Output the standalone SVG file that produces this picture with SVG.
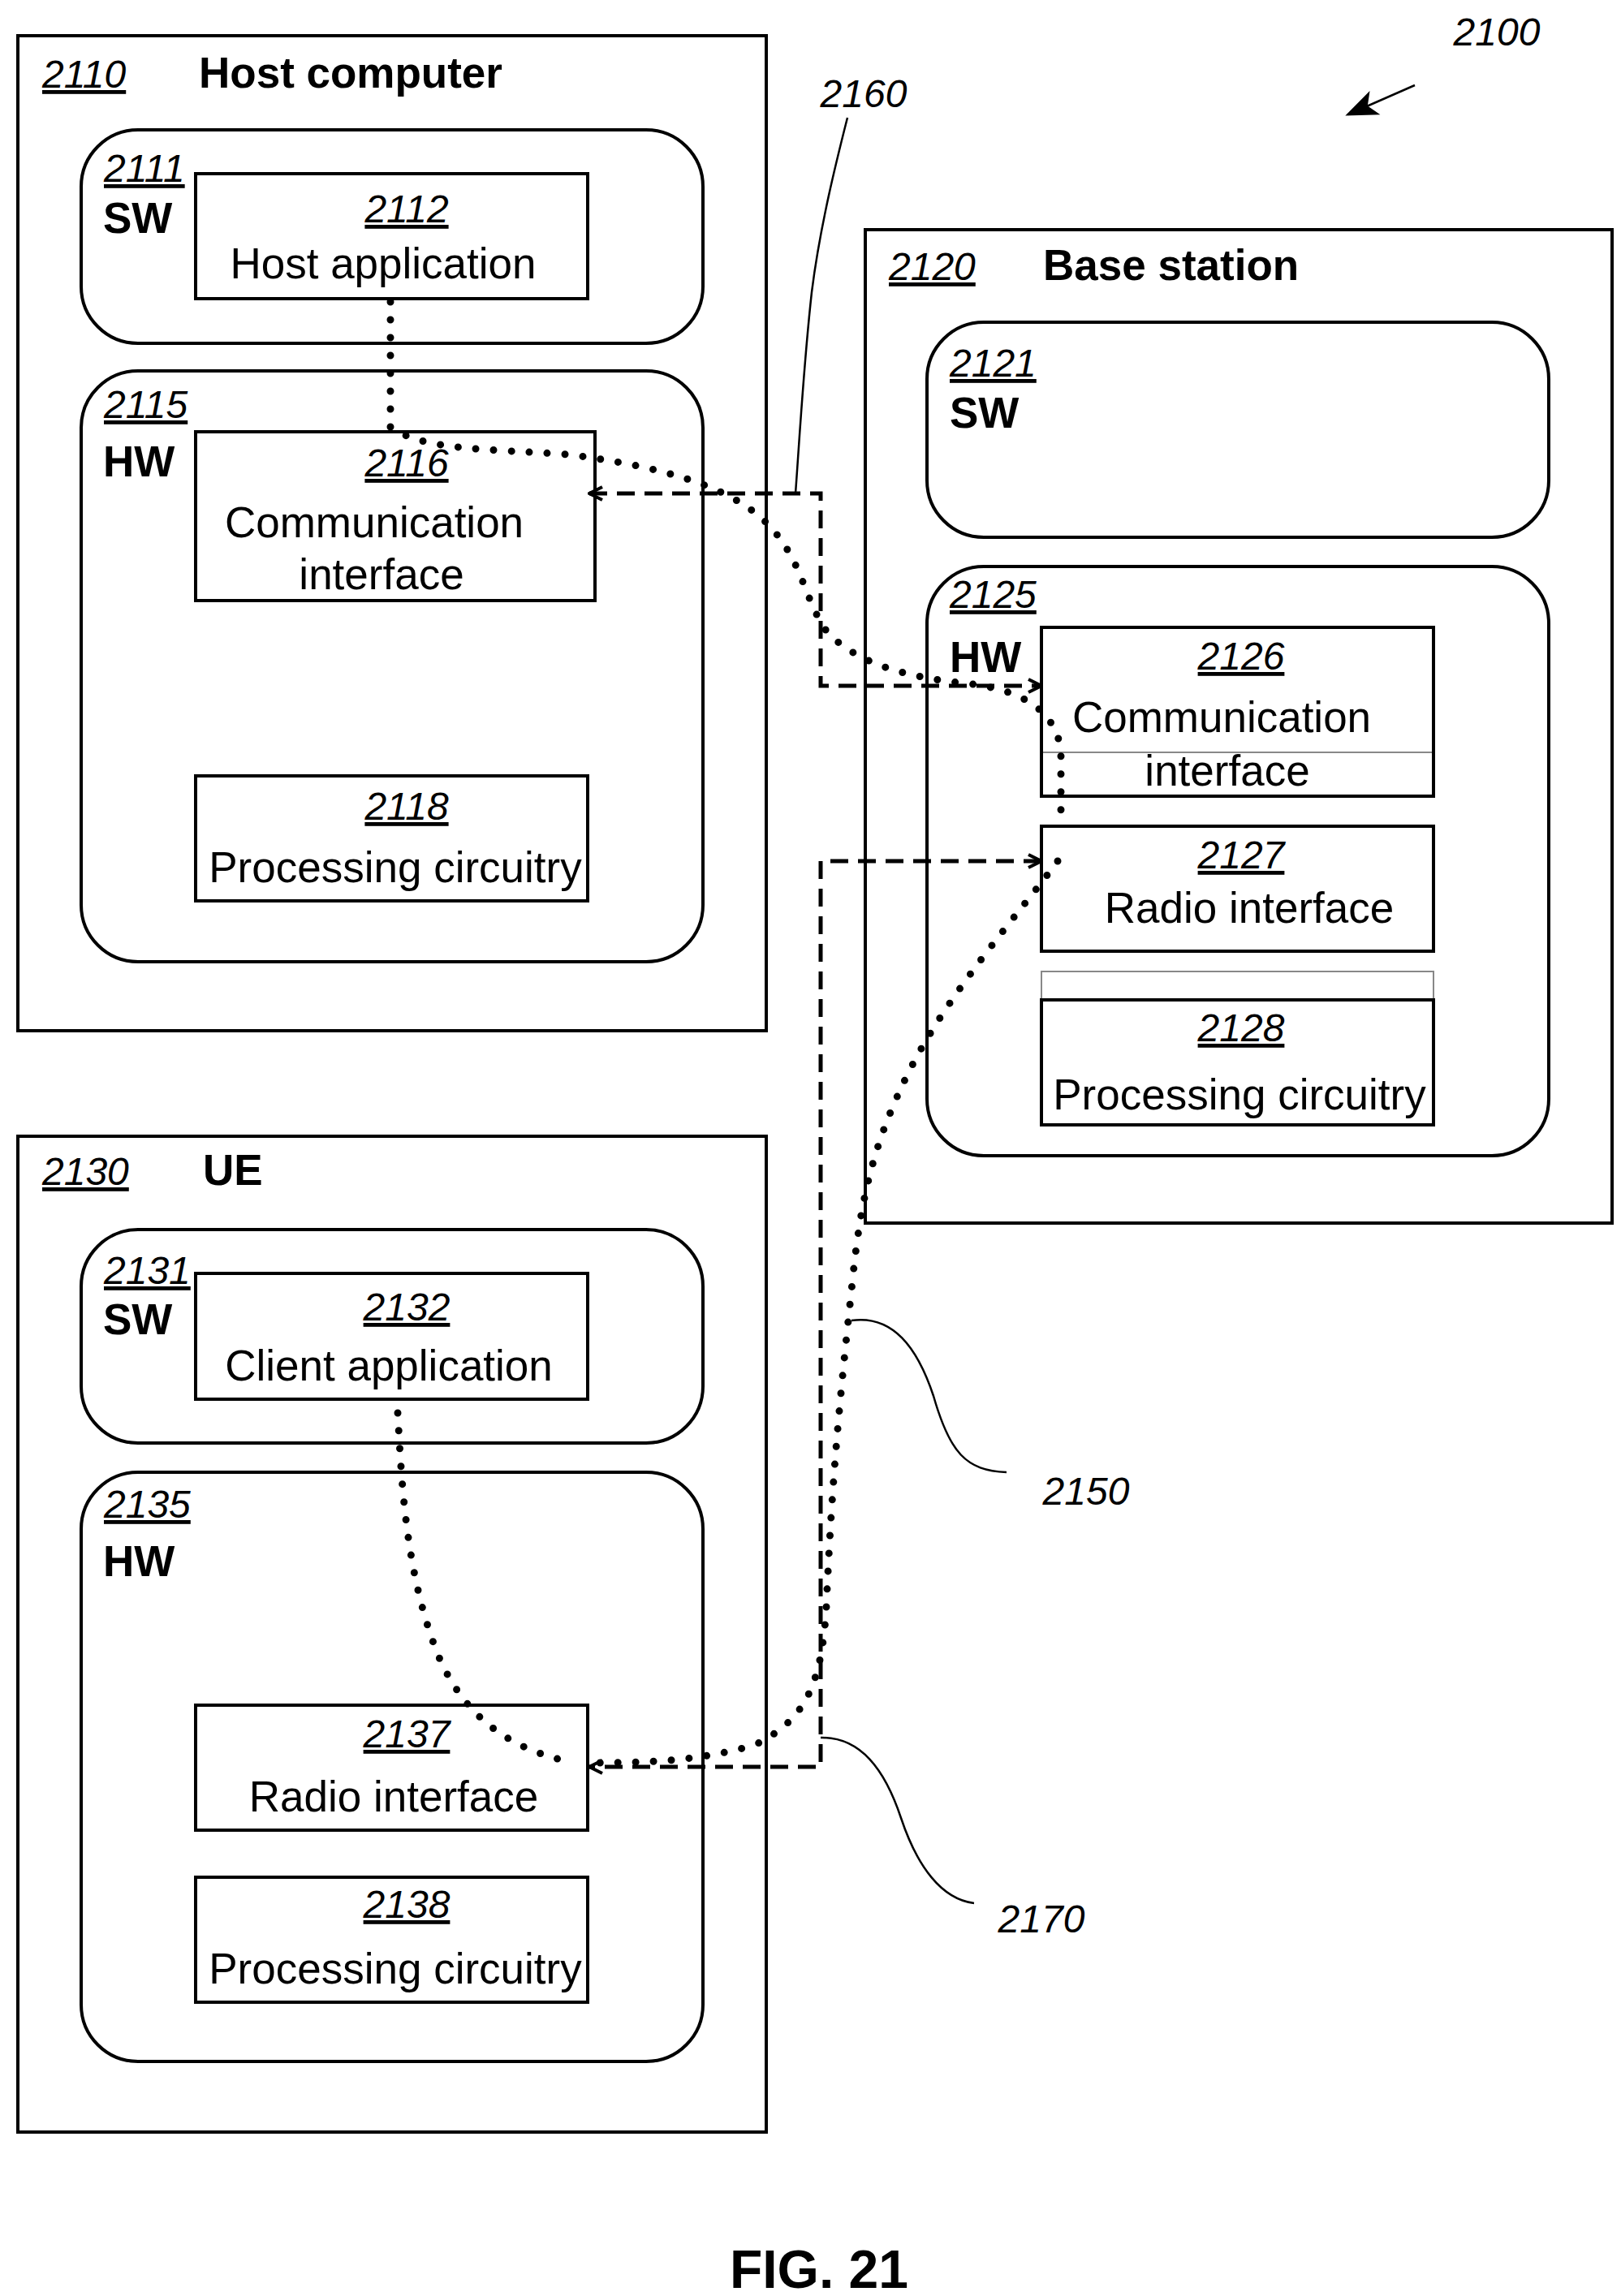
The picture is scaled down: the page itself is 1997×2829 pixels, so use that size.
<svg xmlns="http://www.w3.org/2000/svg" width="1997" height="2829" viewBox="0 0 1997 2829">
<style>
.b{fill:none;stroke:#000;stroke-width:4}
.t{font-family:"Liberation Sans",Arial,sans-serif;font-size:53px;fill:#000}
.n{font-family:"Liberation Sans",Arial,sans-serif;font-size:48px;font-style:italic;text-decoration:underline;fill:#000}
.lb{font-family:"Liberation Sans",Arial,sans-serif;font-size:48px;font-style:italic;fill:#000}
.bd{font-weight:bold}
.m{text-anchor:middle}
.dash{fill:none;stroke:#000;stroke-width:5;stroke-dasharray:22 12}
.dot{fill:none;stroke:#000;stroke-width:9;stroke-linecap:round;stroke-dasharray:0 22}
.ld{fill:none;stroke:#000;stroke-width:2.5}
</style>
<defs>
<marker id="ah" viewBox="0 0 20 20" refX="18" refY="10" markerWidth="20" markerHeight="20" markerUnits="userSpaceOnUse" orient="auto-start-reverse"><path d="M2,2 L18,10 L2,18" fill="none" stroke="#000" stroke-width="4"/></marker>
<marker id="fa" viewBox="0 0 20 20" refX="18" refY="10" markerWidth="40" markerHeight="40" markerUnits="userSpaceOnUse" orient="auto"><path d="M0,2 L20,10 L0,18 L5,10 Z" fill="#000"/></marker>
</defs>
<rect width="1997" height="2829" fill="#fff"/>
<g id="host">
<rect class="b" x="22" y="44" width="922" height="1226"/>
<text class="n" x="52" y="108">2110</text><text class="t bd" x="245" y="108">Host computer</text>
</g>
<g id="host-sw">
<rect class="b" x="100" y="160" width="766" height="263" rx="70"/>
<text class="n" x="128" y="224">2111</text><text class="t bd" x="127" y="287">SW</text>
</g>
<g id="n2112">
<rect class="b" x="241" y="214" width="483" height="154"/>
<text class="n m" x="501" y="274">2112</text><text class="t m" x="472" y="343">Host application</text>
</g>
<g id="host-hw">
<rect class="b" x="100" y="457" width="766" height="728" rx="70"/>
<text class="n" x="128" y="515">2115</text><text class="t bd" x="127" y="587">HW</text>
</g>
<g id="n2116">
<rect class="b" x="241" y="532" width="492" height="208"/>
<text class="n m" x="501" y="587">2116</text><text class="t m" x="461" y="662">Communication</text><text class="t m" x="470" y="726">interface</text>
</g>
<g id="n2118">
<rect class="b" x="241" y="956" width="483" height="154"/>
<text class="n m" x="501" y="1010">2118</text><text class="t m" x="487" y="1087">Processing circuitry</text>
</g>
<g id="bs">
<rect class="b" x="1066" y="283" width="920" height="1224"/>
<text class="n" x="1095" y="345">2120</text><text class="t bd" x="1285" y="345">Base station</text>
</g>
<g id="bs-sw">
<rect class="b" x="1142" y="397" width="766" height="265" rx="70"/>
<text class="n" x="1170" y="464">2121</text><text class="t bd" x="1170" y="527">SW</text>
</g>
<g id="bs-hw">
<rect class="b" x="1142" y="698" width="766" height="726" rx="70"/>
<text class="n" x="1170" y="749">2125</text><text class="t bd" x="1170" y="828">HW</text>
</g>
<g id="n2126">
<rect class="b" x="1283" y="773" width="483" height="208"/>
<line x1="1285" y1="927" x2="1764" y2="927" stroke="#888" stroke-width="2"/>
<text class="n m" x="1529" y="825">2126</text><text class="t m" x="1505" y="902">Communication</text><text class="t m" x="1512" y="968">interface</text>
</g>
<g id="n2127">
<rect class="b" x="1283" y="1018" width="483" height="154"/>
<text class="n m" x="1529" y="1070">2127</text><text class="t m" x="1539" y="1137">Radio interface</text>
</g>
<g id="n2128">
<rect x="1283" y="1197" width="483" height="35" fill="none" stroke="#888" stroke-width="2"/>
<rect class="b" x="1283" y="1232" width="483" height="154"/>
<text class="n m" x="1529" y="1283">2128</text><text class="t m" x="1527" y="1367">Processing circuitry</text>
</g>
<g id="ue">
<rect class="b" x="22" y="1400" width="922" height="1227"/>
<text class="n" x="52" y="1460">2130</text><text class="t bd" x="250" y="1460">UE</text>
</g>
<g id="ue-sw">
<rect class="b" x="100" y="1515" width="766" height="263" rx="70"/>
<text class="n" x="128" y="1582">2131</text><text class="t bd" x="127" y="1644">SW</text>
</g>
<g id="n2132">
<rect class="b" x="241" y="1569" width="483" height="155"/>
<text class="n m" x="501" y="1627">2132</text><text class="t m" x="479" y="1701">Client application</text>
</g>
<g id="ue-hw">
<rect class="b" x="100" y="1814" width="766" height="726" rx="70"/>
<text class="n" x="128" y="1870">2135</text><text class="t bd" x="127" y="1942">HW</text>
</g>
<g id="n2137">
<rect class="b" x="241" y="2101" width="483" height="154"/>
<text class="n m" x="501" y="2153">2137</text><text class="t m" x="485" y="2232">Radio interface</text>
</g>
<g id="n2138">
<rect class="b" x="241" y="2313" width="483" height="154"/>
<text class="n m" x="501" y="2363">2138</text><text class="t m" x="487" y="2444">Processing circuitry</text>
</g>
<g id="connectors">
<path class="dash" d="M726,608 L1011,608 L1011,845 L1283,845" marker-start="url(#ah)" marker-end="url(#ah)"/>
<path class="dash" d="M1283,1061 L1011,1061 L1011,2177 L726,2177" marker-start="url(#ah)" marker-end="url(#ah)"/>
<path class="dot" d="M481,372 L481,526 C520,555 600,553 700,560 C817,575 900,600 944,644 C990,690 990,740 1020,780 C1060,820 1120,835 1198,843 C1250,850 1300,870 1307,925 L1307,1016"/>
<path class="dot" d="M1303,1061 C1260,1120 1170,1220 1120,1320 C1075,1410 1060,1480 1050,1580 C1035,1720 1025,1820 1018,1980 C1012,2080 990,2120 930,2150 C860,2170 800,2172 726,2172"/>
<path class="dot" d="M490,1741 C495,1830 500,1940 540,2040 C570,2110 620,2150 690,2168"/>
<path class="ld" d="M1044,145 C1030,200 1010,280 1000,360 C990,450 985,540 980,608"/>
<path class="ld" d="M1049,1627 C1100,1620 1130,1660 1150,1720 C1170,1790 1190,1812 1240,1814"/>
<path class="ld" d="M1011,2141 C1060,2140 1090,2180 1110,2240 C1130,2300 1160,2340 1200,2345"/>
<path class="ld" d="M1743,105 L1661,141" stroke-width="4" marker-end="url(#fa)"/>
</g>
<g id="labels">
<text class="lb m" x="1064" y="132">2160</text>
<text class="lb m" x="1844" y="56">2100</text>
<text class="lb m" x="1338" y="1854">2150</text>
<text class="lb m" x="1283" y="2381">2170</text>
<text class="t bd m" x="1009" y="2819" style="font-size:66px">FIG. 21</text>
</g>
</svg>
